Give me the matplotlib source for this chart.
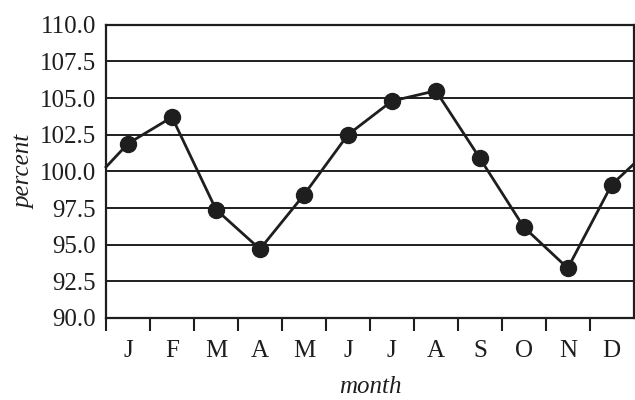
import matplotlib
matplotlib.use("Agg")
import matplotlib.pyplot as plt

months = ["J", "F", "M", "A", "M", "J", "J", "A", "S", "O", "N", "D"]
percent = [101.9, 103.7, 97.4, 94.7, 98.4, 102.5, 104.8, 105.5, 100.9, 96.2, 93.4, 99.1]
# line continues to the edges of the frame (previous Dec / next Jan)
edge_start = 100.3
edge_end = 100.5
y_ticks = [90.0, 92.5, 95.0, 97.5, 100.0, 102.5, 105.0, 107.5, 110.0]

ink = "#1e1e1e"
plt.rcParams["font.family"] = ["Liberation Serif", "DejaVu Serif"]

fig = plt.figure(figsize=(6.35, 4.0), dpi=100)
ax = fig.add_axes([0.167, 0.205, 0.831, 0.733])

centers = [i + 0.5 for i in range(len(months))]
line_x = [0] + centers + [len(months)]
line_y = [edge_start] + percent + [edge_end]

for y in y_ticks:
    ax.axhline(y, color=ink, linewidth=1.4, zorder=1)

ax.plot(line_x, line_y, color=ink, linewidth=2.0, zorder=2, clip_on=False)
ax.plot(centers, percent, "o", color=ink, markersize=11.5, zorder=3)

ax.set_xlim(0, len(months))
ax.set_ylim(90, 110)
ax.set_yticks(y_ticks)
ax.set_yticklabels([f"{v:.1f}" for v in y_ticks], fontsize=18)
ax.tick_params(axis="y", length=0, pad=7, colors=ink)

ax.set_xticks(range(0, len(months)))
ax.set_xticklabels([])
ax.tick_params(axis="x", which="major", length=9, width=1.5, direction="out", color=ink)
ax.set_xticks(centers, minor=True)
ax.set_xticklabels(months, minor=True, fontsize=18, color=ink)
ax.tick_params(axis="x", which="minor", length=0, pad=16)

for s in ax.spines.values():
    s.set_color(ink)
    s.set_linewidth(1.6)

ax.set_xlabel("month", fontsize=18, style="italic", color=ink, labelpad=10)
ax.set_ylabel("percent", fontsize=18, style="italic", color=ink, labelpad=3)

fig.savefig("out.png", dpi=100, facecolor="white")
